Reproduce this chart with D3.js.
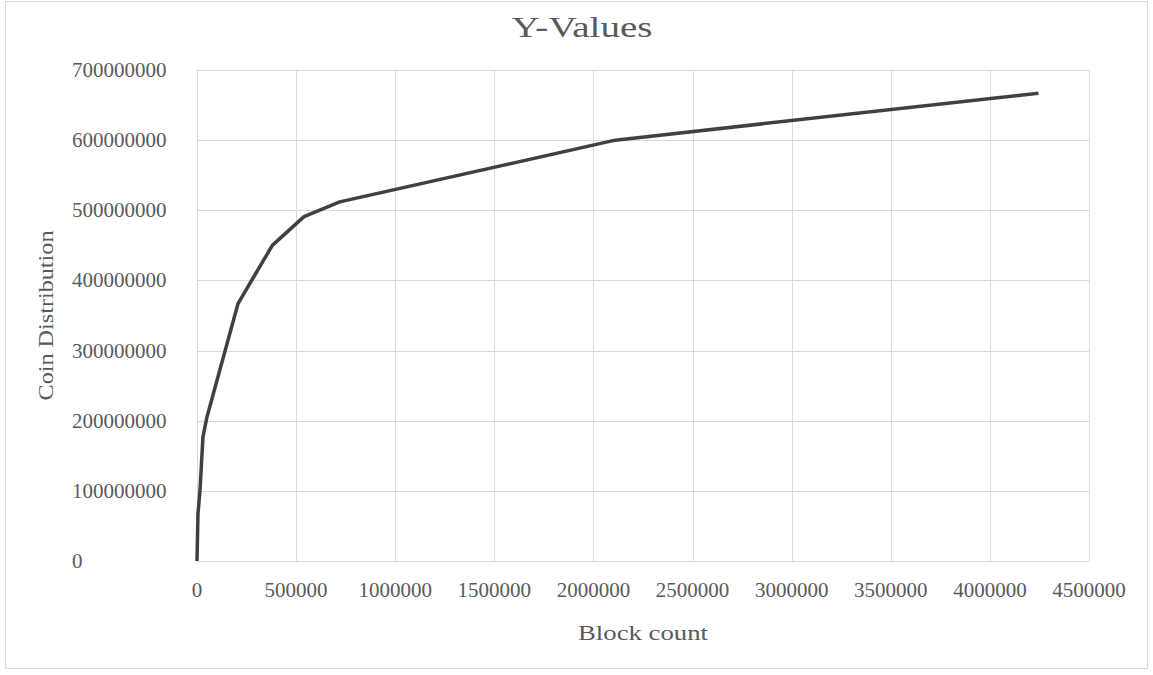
<!DOCTYPE html>
<html>
<head>
<meta charset="utf-8">
<script src="https://cdn.jsdelivr.net/npm/d3@7"></script>
<style>
  html, body { margin: 0; padding: 0; background: #fff; }
  text { font-family: "Liberation Serif", "Times New Roman", serif; fill: #595959; }
</style>
</head>
<body>
<svg id="chart" width="1153" height="675"></svg>
<script>
// block count vs coin distribution
const blocks = [0, 5000, 15000, 30000, 50000, 207000, 380000, 540000, 720000, 2110000, 4245000];
const coins = [0, 68e6, 100e6, 177e6, 205e6, 367e6, 450e6, 491e6, 512e6, 600e6, 667e6];
const xTicks = [0, 500000, 1000000, 1500000, 2000000, 2500000, 3000000, 3500000, 4000000, 4500000];
const yTicks = [0, 100e6, 200e6, 300e6, 400e6, 500e6, 600e6, 700e6];

const svg = d3.select("#chart");
const W = +svg.attr("width"), H = +svg.attr("height");
const M = { top: 70, right: 64, bottom: 114, left: 197 };
const innerW = W - M.left - M.right, innerH = H - M.top - M.bottom;

// outer chart border
svg.append("rect")
  .attr("x", 5.5).attr("y", 1.5).attr("width", 1142).attr("height", 667)
  .attr("fill", "#fff").attr("stroke", "#d9d9d9");

const g = svg.append("g").attr("transform", `translate(${M.left},${M.top})`);

const x = d3.scaleLinear().domain([0, 4500000]).range([0, innerW]);
const y = d3.scaleLinear().domain([0, 700e6]).range([innerH, 0]);

// gridlines
g.append("g").selectAll("line").data(xTicks).join("line")
  .attr("x1", d => Math.round(x(d)) + 0.5).attr("x2", d => Math.round(x(d)) + 0.5)
  .attr("y1", 0).attr("y2", innerH)
  .attr("stroke", "#d9d9d9");
g.append("g").selectAll("line").data(yTicks).join("line")
  .attr("x1", 0).attr("x2", innerW)
  .attr("y1", d => Math.round(y(d)) + 0.5).attr("y2", d => Math.round(y(d)) + 0.5)
  .attr("stroke", "#d9d9d9");

// tick labels
g.append("g").selectAll("text").data(xTicks).join("text")
  .attr("x", d => x(d)).attr("y", innerH + 36)
  .attr("text-anchor", "middle")
  .style("font-size", "21px")
  .text(d3.format("d"));
g.append("g").selectAll("text").data(yTicks).join("text")
  .attr("x", 72 - M.left).attr("y", d => y(d) + 7)
  .attr("text-anchor", "start")
  .style("font-size", "21px")
  .text(d3.format("d"));

const line = d3.line().x((d, i) => x(blocks[i])).y(d => y(d));
g.append("path")
  .datum(coins)
  .attr("fill", "none").attr("stroke", "#404040").attr("stroke-width", 3.5)
  .attr("stroke-linejoin", "round")
  .attr("d", line);

// titles
svg.append("text")
  .attr("x", 582).attr("y", 37)
  .attr("text-anchor", "middle")
  .attr("textLength", 141).attr("lengthAdjust", "spacingAndGlyphs")
  .style("font-size", "30px")
  .text("Y-Values");

svg.append("text")
  .attr("x", M.left + innerW / 2).attr("y", 640)
  .attr("text-anchor", "middle")
  .attr("textLength", 130).attr("lengthAdjust", "spacingAndGlyphs")
  .style("font-size", "22px")
  .text("Block count");

svg.append("text")
  .attr("transform", `translate(53,${M.top + innerH / 2}) rotate(-90)`)
  .attr("text-anchor", "middle")
  .attr("textLength", 170).attr("lengthAdjust", "spacingAndGlyphs")
  .style("font-size", "22px")
  .text("Coin Distribution");
</script>
</body>
</html>
